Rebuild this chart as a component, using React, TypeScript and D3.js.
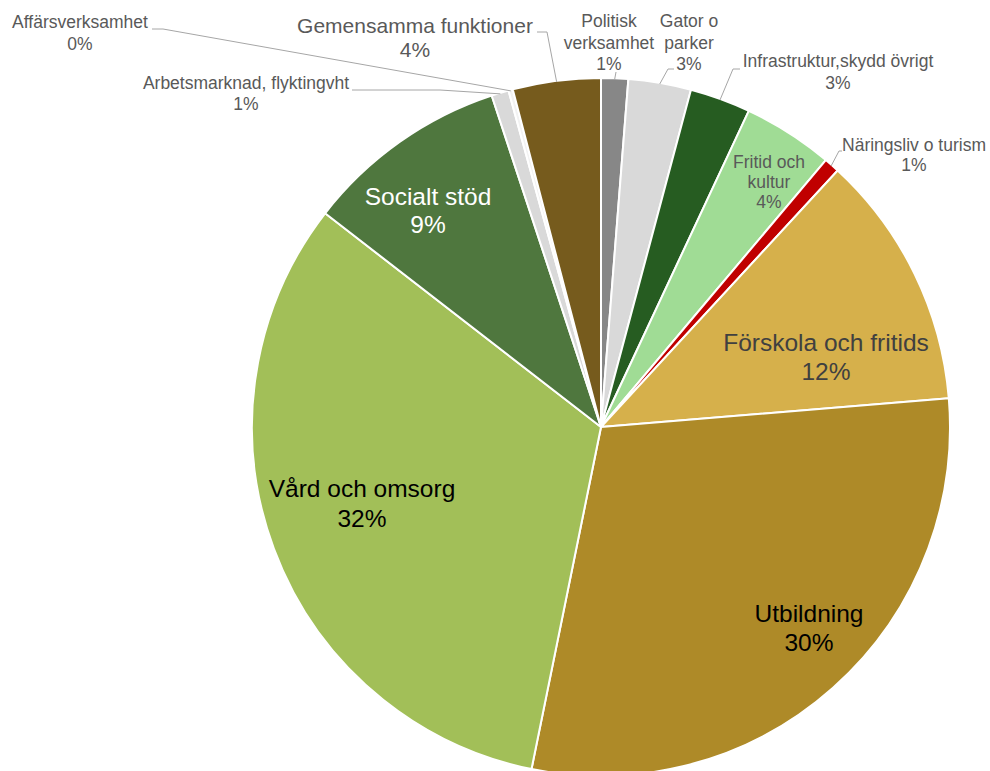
import React, { useEffect, useRef } from 'react';
import * as d3 from 'd3';

// slices, clockwise from 12 o'clock
const categories = [
  'Politisk verksamhet',
  'Gator o parker',
  'Infrastruktur,skydd övrigt',
  'Fritid och kultur',
  'Näringsliv o turism',
  'Förskola och fritids',
  'Utbildning',
  'Vård och omsorg',
  'Socialt stöd',
  'Arbetsmarknad, flyktingvht',
  'Affärsverksamhet',
  'Gemensamma funktioner',
];
const shares = [1.25, 2.9, 2.81, 4.18, 0.72, 11.83, 29.5, 32.3, 9.44, 0.8, 0.2, 4.07];
const colors = [
  '#878787', '#d9d9d9', '#265c21', '#a0dc95', '#c00000', '#d6b04b',
  '#ae8a28', '#a2bf58', '#4f773e', '#d9d9d9', '#f2f2f2', '#765b1d',
];
// how each label is broken into lines (the percentage goes on the last line)
const labelLines = [
  ['Politisk', 'verksamhet'],
  ['Gator o', 'parker'],
  ['Infrastruktur,skydd övrigt'],
  ['Fritid och', 'kultur'],
  ['Näringsliv o turism'],
  ['Förskola och fritids'],
  ['Utbildning'],
  ['Vård och omsorg'],
  ['Socialt stöd'],
  ['Arbetsmarknad, flyktingvht'],
  ['Affärsverksamhet'],
  ['Gemensamma funktioner'],
];

type LabelLayout = {
  x: number; y: number; size: number; lh: number; color: string;
  leader?: [number, number][];
};

// manual label placement (like Excel's dragged data labels)
const layout: LabelLayout[] = [
  { x: 609, y: 27, size: 17.5, lh: 21.5, color: '#595959', leader: [[616, 72]] },
  { x: 689, y: 27, size: 17.5, lh: 21.5, color: '#595959', leader: [[668, 69], [674, 69]] },
  { x: 838, y: 67, size: 17.5, lh: 21.5, color: '#595959', leader: [[733, 69], [740, 69]] },
  { x: 769, y: 168, size: 17.5, lh: 20, color: '#595959' },
  { x: 914, y: 150.5, size: 17.5, lh: 20.5, color: '#595959', leader: [[839, 151], [842, 151]] },
  { x: 826, y: 351, size: 24.5, lh: 28.5, color: '#404040' },
  { x: 809, y: 622, size: 24.5, lh: 29, color: '#000000' },
  { x: 362, y: 497, size: 24.5, lh: 29.5, color: '#000000' },
  { x: 428, y: 205, size: 24.5, lh: 28, color: '#ffffff' },
  { x: 246, y: 89, size: 17.5, lh: 21, color: '#595959', leader: [[440, 90], [352, 90]] },
  { x: 80, y: 28, size: 17.5, lh: 21.5, color: '#595959', leader: [[163, 29], [152, 29]] },
  { x: 415, y: 33, size: 21, lh: 23.5, color: '#595959', leader: [[547, 32], [537, 32]] },
];

const W = 990;
const H = 771;
const CX = 601;
const CY = 427;
const R = 349;

const App: React.FC = () => {
  const svgRef = useRef<SVGSVGElement | null>(null);

  useEffect(() => {
    if (!svgRef.current) return;
    const svg = d3.select(svgRef.current);
    svg.selectAll('*').remove();

    const data = categories.map((name, i) => ({ name, value: shares[i], i }));
    const total = d3.sum(shares);

    const pie = d3.pie<typeof data[number]>()
      .value(d => d.value)
      .sort(null);
    const arcs = pie(data);

    const arc = d3.arc<d3.PieArcDatum<typeof data[number]>>()
      .innerRadius(0)
      .outerRadius(R);

    const g = svg.append('g').attr('transform', `translate(${CX},${CY})`);

    g.selectAll('path.slice')
      .data(arcs)
      .enter().append('path')
        .attr('class', 'slice')
        .attr('d', arc)
        .attr('fill', d => colors[d.data.i])
        .attr('stroke', '#ffffff')
        .attr('stroke-width', 2)
        .attr('stroke-linejoin', 'round');

    // leader lines: start on the rim at the slice's mid angle
    const rim = d3.arc<d3.PieArcDatum<typeof data[number]>>()
      .innerRadius(R - 1)
      .outerRadius(R - 1);

    arcs.forEach(a => {
      const lay = layout[a.data.i];
      if (!lay.leader) return;
      const [px, py] = rim.centroid(a);
      const pts: [number, number][] = [[CX + px, CY + py], ...lay.leader];
      svg.append('path')
        .attr('d', d3.line()(pts))
        .attr('fill', 'none')
        .attr('stroke', '#a6a6a6')
        .attr('stroke-width', 1);
    });

    const pct = (v: number) => `${Math.round((v / total) * 100)}%`;

    arcs.forEach(a => {
      const lay = layout[a.data.i];
      const lines = [...labelLines[a.data.i], pct(a.data.value)];
      const t = svg.append('text')
        .attr('text-anchor', 'middle')
        .attr('font-family', '"Liberation Sans", Arial, sans-serif')
        .attr('font-size', lay.size)
        .attr('fill', lay.color);
      lines.forEach((ln, k) => {
        t.append('tspan')
          .attr('x', lay.x)
          .attr('y', lay.y + k * lay.lh)
          .text(ln);
      });
    });
  }, []);

  return (
    <svg
      ref={svgRef}
      width={W}
      height={H}
      style={{ position: 'absolute', left: 0, top: 0, background: '#ffffff' }}
    />
  );
};

export default App;
